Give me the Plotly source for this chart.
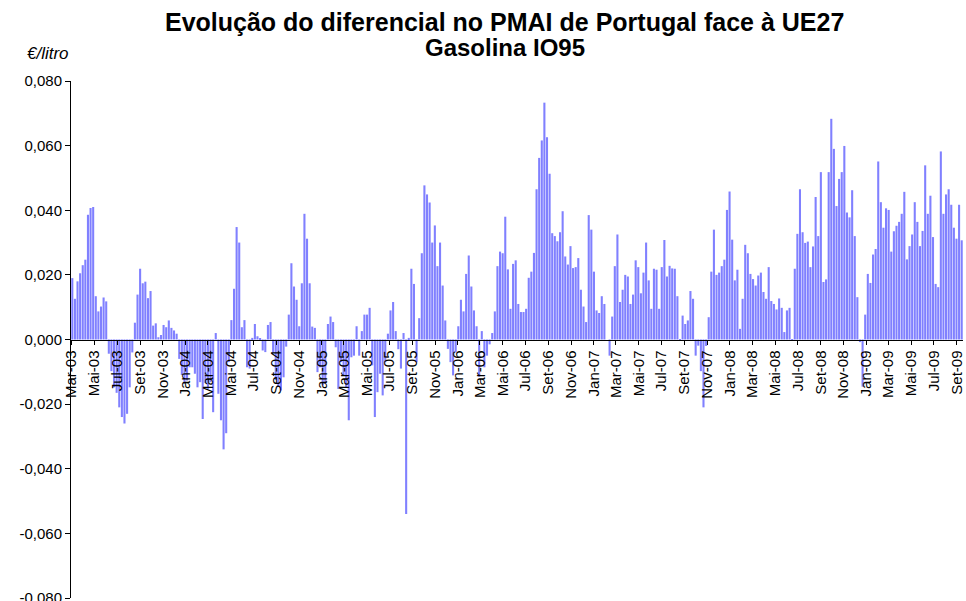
import pandas as pd
import plotly.graph_objects as go

# Weekly differential (EUR/litre), in time order
diff_2003a = [0.019, 0.0126, 0.018, 0.0205, 0.023, 0.0247, 0.0386, 0.0407, 0.041, 0.0134, 0.0087,
              0.0102, 0.013, 0.0118, -0.0044, -0.0098, -0.0148, -0.0165, -0.021, -0.024, -0.026,
              -0.023, -0.0148, -0.004, 0.0052, 0.0139, 0.0219, 0.0174, 0.0179, 0.0128, 0.015,
              0.0043, 0.005]
diff_2003b = [0.0007, 0.0014, 0.0045, 0.0038, 0.0059, 0.0036, 0.0028, 0.0018, -0.006, -0.011,
              -0.0137, -0.0127, -0.0086, -0.0086, -0.0106, -0.0148, -0.0132, -0.0246, -0.0135,
              -0.0153, -0.0132, -0.0225, 0.002, -0.0168, -0.025, -0.034, -0.029, -0.007, 0.006,
              0.0157, 0.0348, 0.030, 0.0038]
diff_2004 = [0.006, -0.0086, -0.009, 0.0005, 0.0048, 0.001, 0.0003, -0.0034, -0.0039, 0.0045,
             0.0054, -0.004, -0.0125, -0.0146, -0.0158, -0.0117, -0.0022, 0.0077, 0.0236, 0.0164,
             0.0123, 0.0041, 0.0174, 0.0389, 0.0312, 0.0174, 0.004, 0.0036, -0.0101, -0.0086,
             -0.0142, -0.0137, 0.0048]
diff_2005a = [0.0071, 0.0054, -0.0024, -0.0153, -0.007, -0.0111, -0.0148, -0.025, -0.0055, -0.005,
              0.0041, -0.005, 0.0026, 0.0077, 0.0077, 0.0098, -0.008, -0.024, -0.0163, -0.0106,
              -0.0173, -0.007, 0.0018, 0.009, 0.0116, 0.0026, -0.003, -0.009, 0.002, -0.054,
              0.0005, 0.0219, 0.0172, -0.007]
diff_2005b = [0.0066, 0.0267, 0.0477, 0.0449, 0.0424, 0.030, 0.0353, 0.0227, 0.030, 0.0167, 0.0059,
              -0.0029, -0.007, -0.0111, -0.004, 0.0041, 0.0123, 0.0087, 0.0203, 0.026, 0.0164,
              0.009, 0.0041, -0.0115, 0.0026, -0.0086, -0.005, -0.0015, 0.002, 0.0087, 0.0227,
              0.0272, 0.0267]
diff_2006 = [0.038, 0.0217, 0.0095, 0.0234, 0.0245, 0.011, 0.0085, 0.0085, 0.0095, 0.0191, 0.021,
             0.0268, 0.0465, 0.0562, 0.0616, 0.0733, 0.0626, 0.0513, 0.0329, 0.032, 0.0304,
             0.0332, 0.0397, 0.0257, 0.0232, 0.0289, 0.0221, 0.0224, 0.0252, 0.0154, 0.0102,
             0.0054, 0.0385]
diff_2007a = [0.034, 0.021, 0.009, 0.0082, 0.0134, 0.011, 0.0, -0.005, 0.0071, 0.0227, 0.0325,
              0.0116, 0.0154, 0.02, 0.0195, 0.011, 0.0139, 0.0245, 0.0224, 0.0143, 0.0207, 0.030,
              0.0183, 0.0095, 0.0219, 0.0216, 0.0095, 0.0224, 0.0308, 0.0195, 0.0228, 0.022,
              0.0219]
diff_2007b = [0.0134, -0.0003, 0.0074, 0.0048, 0.0059, 0.015, 0.0126, -0.005, -0.0019, -0.0098,
              -0.021, -0.002, 0.0069, 0.021, 0.034, 0.02, 0.0207, 0.0227, 0.0247, 0.0401, 0.0458,
              0.0309, 0.0183, 0.0216, 0.0033, 0.0126, 0.0293, 0.0267, 0.0203, 0.0187, 0.0167,
              0.0198, 0.0207]
diff_2008 = [0.0147, 0.0126, 0.0224, 0.0119, 0.011, 0.0093, 0.0127, 0.0098, 0.0023, 0.009, 0.0098,
             -0.0003, 0.0219, 0.0327, 0.0465, 0.0332, 0.0299, 0.0303, 0.0224, 0.0288, 0.0441,
             0.032, 0.0518, 0.0178, 0.0186, 0.0518, 0.0683, 0.059, 0.0413, 0.0497, 0.0518,
             0.0599, 0.0393]
diff_2009 = [0.0378, 0.0462, 0.032, 0.0131, -0.0008, -0.0146, 0.0077, 0.0203, 0.0175, 0.0263,
             0.028, 0.0551, 0.0425, 0.0346, 0.0406, 0.0401, 0.0272, 0.0335, 0.0352, 0.0364,
             0.0389, 0.0457, 0.0248, 0.0289, 0.0325, 0.0425, 0.0364, 0.0289, 0.0336, 0.0539,
             0.0389, 0.0445, 0.0317, 0.0172, 0.0162, 0.0582, 0.0389, 0.0449, 0.0465, 0.0417,
             0.0346, 0.0312, 0.0417, 0.0307]

values = (diff_2003a + diff_2003b + diff_2004 + diff_2005a + diff_2005b + diff_2006
          + diff_2007a + diff_2007b + diff_2008 + diff_2009)

first_week = "2003-03-03"
weeks = pd.date_range(start=first_week, periods=len(values), freq="7D")

# X tick labels (every two months)
x_tick_dates = ["2003-03-01", "2003-05-01", "2003-07-01", "2003-09-01", "2003-11-01",
                "2004-01-01", "2004-03-01", "2004-05-01", "2004-07-01", "2004-09-01", "2004-11-01",
                "2005-01-01", "2005-03-01", "2005-05-01", "2005-07-01", "2005-09-01", "2005-11-01",
                "2006-01-01", "2006-03-01", "2006-05-01", "2006-07-01", "2006-09-01", "2006-11-01",
                "2007-01-01", "2007-03-01", "2007-05-01", "2007-07-01", "2007-09-01", "2007-11-01",
                "2008-01-01", "2008-03-01", "2008-05-01", "2008-07-01", "2008-09-01", "2008-11-01",
                "2009-01-01", "2009-03-01", "2009-05-01", "2009-07-01", "2009-09-01"]
x_tick_labels = ["Mar-03", "Mai-03", "Jul-03", "Set-03", "Nov-03",
                 "Jan-04", "Mar-04", "Mai-04", "Jul-04", "Set-04", "Nov-04",
                 "Jan-05", "Mar-05", "Mai-05", "Jul-05", "Set-05", "Nov-05",
                 "Jan-06", "Mar-06", "Mai-06", "Jul-06", "Set-06", "Nov-06",
                 "Jan-07", "Mar-07", "Mai-07", "Jul-07", "Set-07", "Nov-07",
                 "Jan-08", "Mar-08", "Mai-08", "Jul-08", "Set-08", "Nov-08",
                 "Jan-09", "Mar-09", "Mai-09", "Jul-09", "Set-09"]

y_tick_values = [-0.08, -0.06, -0.04, -0.02, 0.0, 0.02, 0.04, 0.06, 0.08]
y_tick_labels = ["-0,080", "-0,060", "-0,040", "-0,020", "0,000", "0,020", "0,040", "0,060", "0,080"]

title_line1 = "Evolução do diferencial no PMAI de Portugal face à UE27"
title_line2 = "Gasolina IO95"
unit_label = "€/litro"

font_family = "Liberation Sans, Arial, sans-serif"

fig = go.Figure()
fig.add_trace(go.Bar(
    x=weeks, y=values,
    marker=dict(color="rgb(128,128,255)", line=dict(width=0)),
    showlegend=False,
))

x_start = weeks[0] - pd.Timedelta(days=3.5)
x_end = weeks[-1] + pd.Timedelta(days=3.5)

fig.update_layout(
    width=966, height=601,
    margin=dict(l=71, r=3, t=81, b=3),
    paper_bgcolor="white", plot_bgcolor="white",
    bargap=0.2,
    font=dict(family=font_family, size=15, color="black"),
    xaxis=dict(
        type="date",
        range=[x_start, x_end],
        anchor="free", position=0.5,
        tickmode="array", tickvals=x_tick_dates, ticktext=x_tick_labels,
        tickangle=-90,
        ticks="outside", ticklen=4, tickcolor="black", tickwidth=1,
        showline=True, linecolor="black", linewidth=1,
        showgrid=False, zeroline=False,
        tickfont=dict(family=font_family, size=15, color="black"),
        ticklabeloverflow="allow",
        automargin=False,
    ),
    yaxis=dict(
        range=[-0.08, 0.08],
        tickmode="array", tickvals=y_tick_values, ticktext=y_tick_labels,
        ticks="outside", ticklen=5, tickcolor="black", tickwidth=1,
        showline=True, linecolor="black", linewidth=1,
        showgrid=False, zeroline=False,
        tickfont=dict(family=font_family, size=15, color="black"),
        ticklabeloverflow="allow",
        automargin=False,
    ),
    annotations=[
        dict(text="<b>" + title_line1 + "</b>", xref="paper", yref="paper",
             x=0.4865, y=1.114, xanchor="center", yanchor="middle", showarrow=False,
             font=dict(family=font_family, size=25, color="black")),
        dict(text="<b>" + title_line2 + "</b>", xref="paper", yref="paper",
             x=0.4865, y=1.064, xanchor="center", yanchor="middle", showarrow=False,
             font=dict(family=font_family, size=24, color="black")),
        dict(text="<i>" + unit_label + "</i>", xref="paper", yref="paper",
             x=-0.0516, y=1.054, xanchor="left", yanchor="middle", showarrow=False,
             font=dict(family=font_family, size=17, color="black")),
    ],
)

fig.write_html("out.html",
               config={"displayModeBar": False},
               post_script="document.body.style.margin='0';document.body.style.overflow='hidden';")
